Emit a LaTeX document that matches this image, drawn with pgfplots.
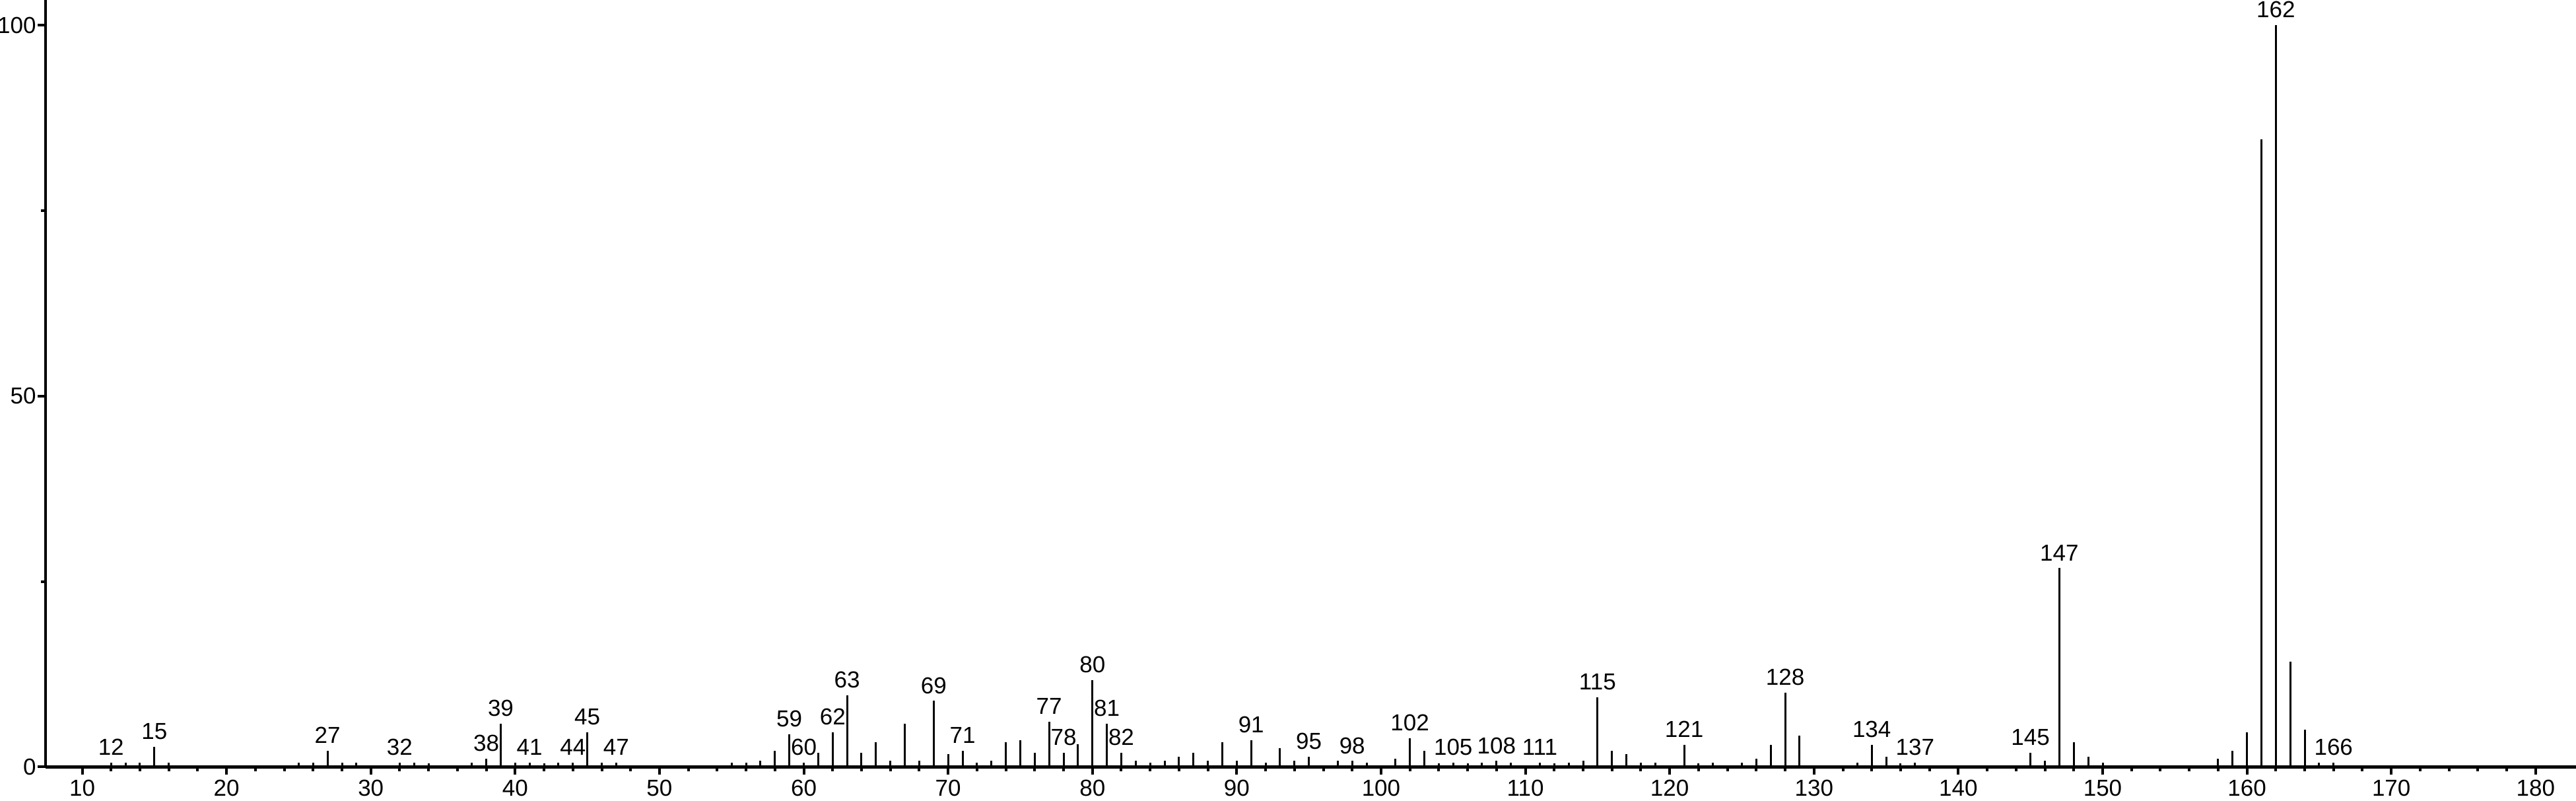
\documentclass[border=0pt]{standalone}
\usepackage{pgfplots}
\pgfplotsset{compat=1.18}
\usepackage{fontspec}
\setmainfont{Liberation Sans}
\begin{document}
\begin{tikzpicture}
\begin{axis}[
  scale only axis,
  width=766.6pt, height=232.3pt,
  xmin=7.46, xmax=182.8,
  ymin=0, ymax=103.4,
  axis lines*=left,
  axis line style={line width=0.9pt},
  xtick={10,20,...,180},
  ytick={0,50,100},
  minor xtick={12,14,...,18,22,24,...,28,32,34,...,38,42,44,...,48,52,54,...,58,62,64,...,68,72,74,...,78,82,84,...,88,92,94,...,98,102,104,...,108,112,114,...,118,122,124,...,128,132,134,...,138,142,144,...,148,152,154,...,158,162,164,...,168,172,174,...,178},
  minor ytick={25,75},
  tick align=outside,
  major tick length=2.4pt,
  minor tick length=1.3pt,
  tick style={line width=0.8pt, black},
  /pgf/number format/assume math mode=true,
  tick label style={font=\fontsize{7}{8}\selectfont},
  yticklabel style={inner sep=0.3pt},
  xticklabel style={inner sep=0pt, yshift=-1.4pt},
  clip=false,
]
\coordinate (sw) at (rel axis cs:0,0);
\coordinate (ne) at (rel axis cs:1,1);
\addplot[ycomb, line width=0.6pt, black, mark=none] coordinates {
(12,0.6) (13,0.6) (14,0.6) (15,2.7) (16,0.6) (25,0.6) (26,0.6) (27,2.2) (28,0.6) (29,0.6)
(32,0.6) (33,0.6) (34,0.5) (37,0.6) (38,1.1) (39,5.8) (40,0.6) (41,0.6) (42,0.5) (43,0.6)
(44,0.6) (45,4.7) (46,0.6) (47,0.6) (55,0.6) (56,0.6) (57,0.8) (58,2.2) (59,4.4) (60,0.6)
(61,1.9) (62,4.7) (63,9.7) (64,1.9) (65,3.3) (66,0.8) (67,5.8) (68,0.8) (69,8.9) (70,1.7)
(71,2.2) (72,0.6) (73,0.8) (74,3.3) (75,3.6) (76,1.9) (77,6.1) (78,1.9) (79,3.1) (80,11.7)
(81,5.8) (82,1.9) (83,0.8) (84,0.6) (85,0.8) (86,1.4) (87,1.9) (88,0.8) (89,3.3) (90,0.8)
(91,3.6) (92,0.6) (93,2.5) (94,0.8) (95,1.4) (97,0.8) (98,0.8) (99,0.6) (101,1.1) (102,3.9)
(103,2.2) (104,0.5) (105,0.6) (106,0.5) (107,0.6) (108,0.8) (109,0.6) (111,0.6) (112,0.5) (113,0.6)
(114,0.8) (115,9.4) (116,2.2) (117,1.7) (118,0.6) (119,0.6) (121,3.0) (122,0.5) (123,0.6) (125,0.6)
(126,1.1) (127,3.0) (128,10.0) (129,4.2) (133,0.6) (134,3.0) (135,1.4) (136,0.5) (137,0.6) (145,1.9)
(146,0.8) (147,26.8) (148,3.3) (149,1.4) (150,0.6) (158,1.1) (159,2.2) (160,4.7) (161,84.6) (162,100)
(163,14.2) (164,5.0) (165,0.6) (166,0.6)
};
\addplot[draw=none, mark=none, point meta=explicit symbolic,
  nodes near coords,
  nodes near coords style={font=\fontsize{7}{8}\selectfont, inner sep=0pt, anchor=south, yshift=2pt, text=black}]
coordinates {
(12,0.6) [12] (15,2.7) [15] (27,2.2) [27] (32,0.6) [32] (38,1.1) [38] (39,5.8) [39]
(41,0.6) [41] (44,0.6) [44] (45,4.7) [45] (47,0.6) [47] (59,4.4) [59] (60,0.6) [60]
(62,4.7) [62] (63,9.7) [63] (69,8.9) [69] (71,2.2) [71] (77,6.1) [77] (78,1.9) [78]
(80,11.7) [80] (81,5.8) [81] (82,1.9) [82] (91,3.6) [91] (95,1.4) [95] (98,0.8) [98]
(102,3.9) [102] (105,0.6) [105] (108,0.8) [108] (111,0.6) [111] (115,9.4) [115] (121,3.0) [121]
(128,10.0) [128] (134,3.0) [134] (137,0.6) [137] (145,1.9) [145] (147,26.8) [147] (162,100) [162]
(166,0.6) [166]
};
\end{axis}
\pgfresetboundingbox
\useasboundingbox (sw) ++(-13.8pt,-10.2pt) rectangle (ne);
\end{tikzpicture}
\end{document}
